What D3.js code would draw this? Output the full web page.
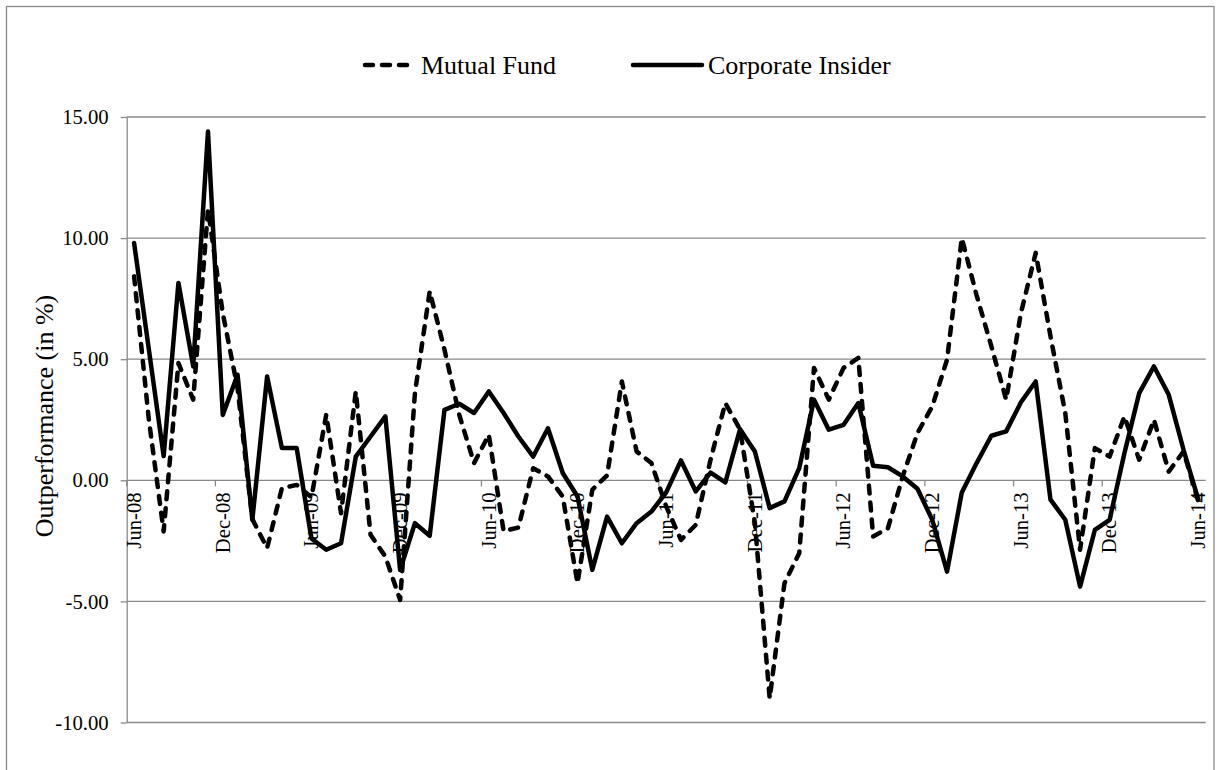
<!DOCTYPE html>
<html>
<head>
<meta charset="utf-8">
<script src="https://cdn.jsdelivr.net/npm/d3@7"></script>
<style>
  html, body { margin: 0; padding: 0; background: #fff; }
  svg { display: block; }
  svg text { font-family: "Times New Roman", "Liberation Serif", Tinos, "DejaVu Serif", serif; fill: #000; }
</style>
</head>
<body>
<svg id="chart" width="1221" height="770"></svg>
<script>
// ---- data ----
const monthNames = ["Jan","Feb","Mar","Apr","May","Jun","Jul","Aug","Sep","Oct","Nov","Dec"];
const categories = [];
for (let k = 0; k < 73; k++) {
  const m = (5 + k) % 12;
  const yr = 8 + Math.floor((5 + k) / 12);
  categories.push(monthNames[m] + "-" + String(yr).padStart(2, "0"));
}
const tickLabels = ["Jun-08","Dec-08","Jun-09","Dec-09","Jun-10","Dec-10","Jun-11","Dec-11","Jun-12","Dec-12","Jun-13","Dec-13","Jun-14"];
const yTicks = [-10, -5, 0, 5, 10, 15];

const mutualFund = [
  8.42, 2.5, -2.11, 4.84, 3.33, 11.18, 6.9, 3.8, -1.6, -2.8, -0.32, -0.19,
  -0.7, 2.71, -1.36, 3.67, -2.25, -3.15, -4.94, 3.6, 7.8, 5.39, 2.7, 0.71,
  1.88, -2.1, -1.95, 0.5, 0.16, -0.67, -4.25, -0.39, 0.2, 4.08, 1.19, 0.71,
  -1.08, -2.46, -1.84, 0.85, 3.19, 2.09, -1.77, -9.0, -4.25, -3.01, 4.64, 3.33,
  4.64, 5.05, -2.32, -1.98, 0.16, 1.95, 3.05, 4.98, 10.0, 7.64, 5.53, 3.33,
  6.91, 9.39, 5.94, 2.78, -2.87, 1.33, 0.98, 2.64, 0.85, 2.5, 0.36, 1.19,
  -0.87
];
const corporateInsider = [
  9.8, 5.4, 1.0, 8.15, 4.7, 14.4, 2.7, 4.36, -1.63, 4.29, 1.33, 1.33,
  -2.4, -2.87, -2.6, 0.98, 1.81, 2.64, -3.7, -1.77, -2.29, 2.91, 3.16, 2.78,
  3.67, 2.78, 1.81, 0.98, 2.15, 0.3, -0.67, -3.7, -1.5, -2.6, -1.77, -1.29,
  -0.5, 0.82, -0.46, 0.32, -0.09, 2.11, 1.19, -1.15, -0.87, 0.5, 3.33, 2.09,
  2.29, 3.19, 0.6, 0.54, 0.16, -0.35, -1.63, -3.77, -0.5, 0.71, 1.84, 2.02,
  3.22, 4.08, -0.8, -1.63, -4.39, -2.05, -1.63, 1.12, 3.6, 4.7, 3.53, 1.26,
  -0.8
];
const seriesNames = ["Mutual Fund", "Corporate Insider"];

// ---- layout ----
const FONT = '"Times New Roman", "Liberation Serif", Tinos, "DejaVu Serif", serif';
const svg = d3.select("#chart");
const plotL = 126.7, plotR = 1205.7, plotT = 117, plotB = 722.5;
const gridColor = "#898989";
const lineW = 4.5;

svg.append("rect").attr("x", 6.5).attr("y", 6.5).attr("width", 1207.5).attr("height", 780)
  .attr("fill", "none").attr("stroke", gridColor).attr("stroke-width", 1.3);

const x = d3.scaleBand().domain(categories).range([plotL, plotR]).padding(0);
const y = d3.scaleLinear().domain([-10, 15]).range([plotB, plotT]);
const cx = d => x(d) + x.bandwidth() / 2;

// gridlines
svg.append("g").selectAll("line").data(yTicks).join("line")
  .attr("x1", plotL).attr("x2", plotR)
  .attr("y1", d => y(d)).attr("y2", d => y(d))
  .attr("stroke", gridColor).attr("stroke-width", 1.3);

// y axis
const yAxis = d3.axisLeft(y).tickValues(yTicks).tickFormat(d => d.toFixed(2)).tickSizeOuter(0).tickSizeInner(6).tickPadding(12);
const gy = svg.append("g").attr("transform", `translate(${plotL},0)`).call(yAxis);
gy.attr("font-family", FONT);
gy.select(".domain").attr("stroke", gridColor).attr("stroke-width", 1.3);
gy.selectAll(".tick line").attr("stroke", gridColor).attr("stroke-width", 1.3);
gy.selectAll(".tick text").style("font-family", FONT).attr("font-size", "20.7px").attr("fill", "#000");

// x axis at zero: ticks at band boundaries every 6 categories
const tickIdx = d3.range(0, 73, 6);
svg.append("g").selectAll("line").data(tickIdx).join("line")
  .attr("x1", i => x(categories[i])).attr("x2", i => x(categories[i]))
  .attr("y1", y(0)).attr("y2", y(0) + 6)
  .attr("stroke", gridColor).attr("stroke-width", 1.3);

svg.append("g").selectAll("text").data(tickLabels).join("text")
  .attr("transform", d => `translate(${cx(d)},${y(0) + 12}) rotate(-90)`)
  .attr("text-anchor", "end").attr("dy", "0.33em")
  .style("font-family", FONT).attr("font-size", "20.7px")
  .text(d => d);

// lines
const line = d3.line().x((d, i) => cx(categories[i])).y(d => y(d)).curve(d3.curveLinear);
svg.append("path").datum(corporateInsider).attr("d", line)
  .attr("fill", "none").attr("stroke", "#000").attr("stroke-width", lineW)
  .attr("stroke-linejoin", "round").attr("stroke-linecap", "round");
svg.append("path").datum(mutualFund).attr("d", line)
  .attr("fill", "none").attr("stroke", "#000").attr("stroke-width", lineW)
  .attr("stroke-dasharray", "8 9").attr("stroke-linejoin", "round").attr("stroke-linecap", "round");

// y axis title
svg.append("text")
  .attr("transform", `translate(53,416) rotate(-90)`)
  .attr("text-anchor", "middle").style("font-family", FONT).attr("font-size", "26px")
  .text("Outperformance (in %)");

// legend
const lg = svg.append("g");
lg.append("line").attr("x1", 365).attr("x2", 414).attr("y1", 65).attr("y2", 65)
  .attr("stroke", "#000").attr("stroke-width", lineW).attr("stroke-dasharray", "8 9").attr("stroke-linecap", "round");
lg.append("text").attr("x", 421).attr("y", 65).attr("dy", "0.35em").style("font-family", FONT).attr("font-size", "26px").text(seriesNames[0]);
lg.append("line").attr("x1", 633).attr("x2", 702).attr("y1", 65).attr("y2", 65)
  .attr("stroke", "#000").attr("stroke-width", lineW).attr("stroke-linecap", "round");
lg.append("text").attr("x", 708).attr("y", 65).attr("dy", "0.35em").style("font-family", FONT).attr("font-size", "26px").text(seriesNames[1]);
</script>
</body>
</html>
